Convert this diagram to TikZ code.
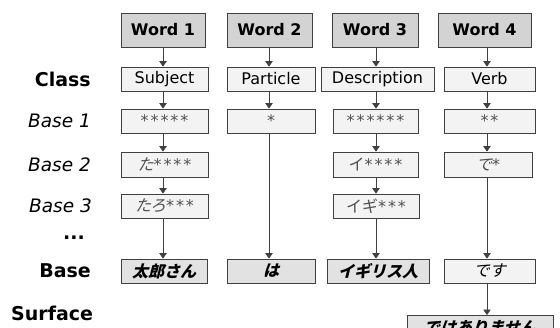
\documentclass[tikz,border=0pt]{standalone}
\usepackage{fontspec}
\setmainfont{DejaVu Sans}
\newfontfamily\jp{Noto Sans CJK JP}
\newfontfamily\jpsl[FakeSlant=0.25]{Noto Sans CJK JP}
\newfontfamily\stars[LetterSpace=12]{DejaVu Sans}
\usetikzlibrary{arrows.meta}
\definecolor{edge}{HTML}{404040}
\definecolor{wordfill}{HTML}{D3D3D3}
\definecolor{lightfill}{HTML}{F3F3F3}
\definecolor{basefill}{HTML}{E2E2E2}
\definecolor{softtext}{HTML}{505050}
\tikzset{
  box/.style={draw=edge, line width=0.8pt, inner sep=0pt, minimum height=24pt,
    fill=lightfill, font=\fontsize{16}{16}\selectfont},
  wordbox/.style={box, fill=wordfill, minimum height=34pt,
    font=\fontsize{16}{16}\selectfont\bfseries},
  stagebox/.style={box, text=softtext},
  basebox/.style={box, fill=basefill},
  rowlabel/.style={anchor=east, inner sep=0pt, font=\fontsize{19}{19}\selectfont\bfseries},
  rowlabelit/.style={anchor=east, inner sep=0pt, font=\fontsize{18.5}{18.5}\selectfont\itshape},
  arr/.style={draw=edge, line width=0.7pt, -{Triangle[width=7.5pt,length=5.5pt]}}
}
\begin{document}
\begin{tikzpicture}[x=1pt,y=-1pt]
\useasboundingbox (0,0) rectangle (560,327);
\begin{scope}
\clip (0,0) rectangle (560,327);

% column axes for the connectors
\coordinate (k1) at (163,0);
\coordinate (k2) at (269,0);
\coordinate (k3) at (376,0);
\coordinate (k4) at (487,0);

% words
\node[wordbox, minimum width=84pt] (w1) at (163,30) {Word 1};
\node[wordbox, minimum width=85pt] (w2) at (269.5,30) {Word 2};
\node[wordbox, minimum width=86pt] (w3) at (375,30) {Word 3};
\node[wordbox, minimum width=93pt] (w4) at (484.5,30) {Word 4};

% class
\node[box, minimum width=87pt] (c1) at (164.5,79) {Subject};
\node[box, minimum width=88pt] (c2) at (271,79) {Particle};
\node[box, minimum width=113pt] (c3) at (377.5,79) {Description};
\node[box, minimum width=91pt] (c4) at (489.5,79) {Verb};

% base 1
\node[stagebox, minimum width=87pt] (b1) at (164.5,121) {\stars *****};
\node[stagebox, minimum width=88pt] (b2) at (271,121) {\stars *};
\node[stagebox, minimum width=85pt] (b3) at (375.5,121) {\stars ******};
\node[stagebox, minimum width=91pt] (b4) at (489.5,121) {\stars **};

% base 2
\node[stagebox, minimum width=87pt, minimum height=25pt] (r1) at (164.5,164.5) {{\jpsl た}{\stars ****}};
\node[stagebox, minimum width=85pt, minimum height=25pt] (r3) at (375.5,164.5) {{\jp イ}{\stars ****}};
\node[stagebox, minimum width=88pt, minimum height=25pt] (r4) at (488,164.5) {{\jpsl で}{\stars *}};

% base 3
\node[stagebox, minimum width=87pt] (t1) at (164.5,206) {{\jpsl たろ}{\stars ***}};
\node[stagebox, minimum width=86pt] (t3) at (376,206) {{\jp イギ}{\stars ***}};

% base forms
\node[basebox, minimum width=86pt] (f1) at (164,271) {\jpsl\bfseries 太郎さん};
\node[basebox, minimum width=88pt] (f2) at (271,271) {\jpsl\bfseries は};
\node[basebox, minimum width=102pt] (f3) at (378,271) {\jpsl\bfseries イギリス人};
\node[box, minimum width=91pt] (f4) at (489.5,271) {\jpsl です};

% surface form
\node[basebox, minimum width=146pt, anchor=north] (s4) at (480,315) {\jpsl\bfseries ではありません};

% connectors
\draw[arr] (w1.south -| k1) -- (c1.north -| k1);
\draw[arr] (w2.south -| k2) -- (c2.north -| k2);
\draw[arr] (w3.south -| k3) -- (c3.north -| k3);
\draw[arr] (w4.south -| k4) -- (c4.north -| k4);
\draw[arr] (c1.south -| k1) -- (b1.north -| k1);
\draw[arr] (c2.south -| k2) -- (b2.north -| k2);
\draw[arr] (c3.south -| k3) -- (b3.north -| k3);
\draw[arr] (c4.south -| k4) -- (b4.north -| k4);
\draw[arr] (b1.south -| k1) -- (r1.north -| k1);
\draw[arr] (b3.south -| k3) -- (r3.north -| k3);
\draw[arr] (b4.south -| k4) -- (r4.north -| k4);
\draw[arr] (r1.south -| k1) -- (t1.north -| k1);
\draw[arr] (r3.south -| k3) -- (t3.north -| k3);
\draw[arr] (t1.south -| k1) -- (f1.north -| k1);
\draw[arr] (b2.south -| k2) -- (f2.north -| k2);
\draw[arr] (t3.south -| k3) -- (f3.north -| k3);
\draw[arr] (r4.south -| k4) -- (f4.north -| k4);
\draw[arr] (f4.south -| k4) -- (s4.north -| k4);

% row labels
\node[rowlabel] (lclass) at (91,79) {Class};
\node[rowlabelit] (lb1) at (91,121) {Base 1};
\node[rowlabelit] (lb2) at (91,164.5) {Base 2};
\node[rowlabelit] (lb3) at (92,206) {Base 3};
\node[rowlabel, anchor=center] (ldots) at (74,238) {...};
\node[rowlabel] (lbase) at (91,271) {Base};
\node[rowlabel, anchor=west] (lsurf) at (11,313.5) {Surface};
\end{scope}
\end{tikzpicture}
\end{document}
